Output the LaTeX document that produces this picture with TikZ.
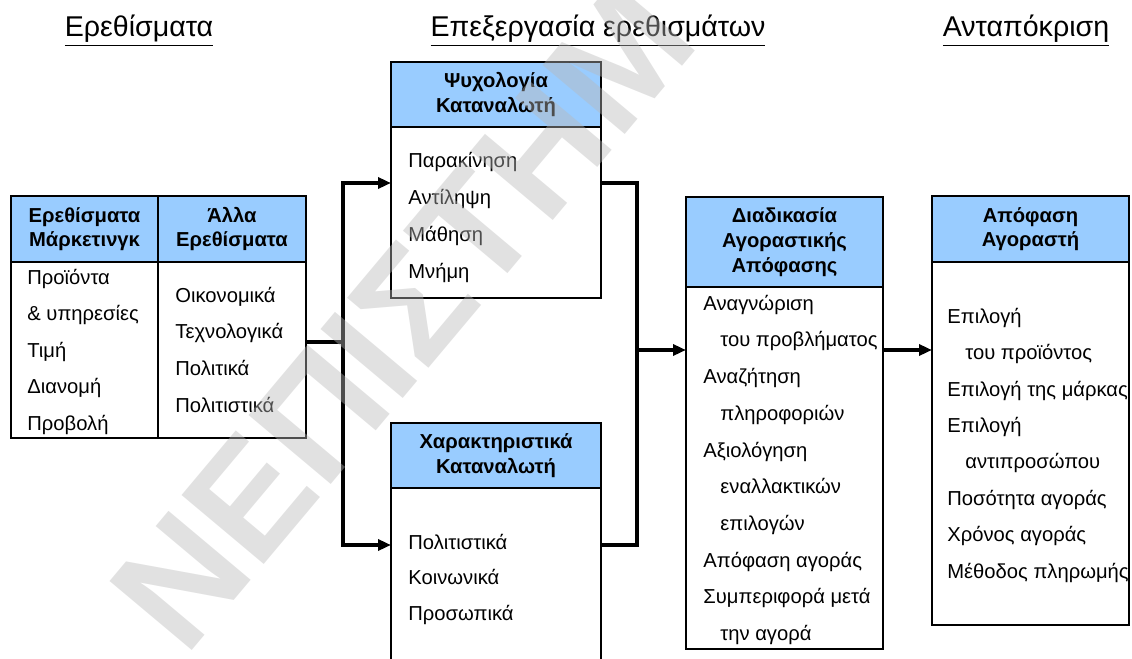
\documentclass[tikz,border=0pt]{standalone}
\usepackage{fontspec}
\setmainfont{Liberation Sans}
\usetikzlibrary{positioning, arrows.meta}
\definecolor{headblue}{RGB}{153,204,255}
\definecolor{markgray}{RGB}{184,184,184}

\begin{document}
\begin{tikzpicture}[x=0.5pt, y=-0.5pt,
headcell/.style={draw,fill=headblue,line width=0.7pt,inner sep=0pt,outer sep=0pt,align=center,
  font=\bfseries\fontsize{10.1}{12.2}\selectfont},
bodycell/.style={draw,fill=white,line width=0.7pt,inner sep=0pt,outer sep=0pt},
item/.style={inner sep=0pt,anchor=west,text height=7.2pt,text depth=0pt,font=\fontsize{10.1}{12}\selectfont},
title/.style={font=\fontsize{14.3}{16}\selectfont},
link/.style={line width=2.2pt,line join=miter},
flow/.style={link,-{Triangle[length=6.5pt,width=5.5pt]}},
watermark/.style={font=\bfseries\fontsize{78}{78}\selectfont,text=markgray,text opacity=0.42,inner sep=0pt}
]
\useasboundingbox (0,0) rectangle (1132,659);
\clip (0,0) rectangle (1132,659);

% column titles
\node[title] (stimtitle) at (139,31) {\underline{Ερεθίσματα}};
\node[title] (proctitle) at (598,31) {\underline{Επεξεργασία ερεθισμάτων}};
\node[title] (resptitle) at (1026,31) {\underline{Ανταπόκριση}};

% stimuli
\node[headcell,anchor=north west,minimum width=73.5pt,minimum height=33pt] (mkthead) at (11,196) {Ερεθίσματα\\Μάρκετινγκ};
\node[headcell,minimum width=74pt,minimum height=33pt,right=0pt of mkthead] (othhead) {Άλλα\\Ερεθίσματα};
\node[bodycell,minimum width=73.5pt,minimum height=88pt,below=0pt of mkthead] (mktbody) {};
\node[bodycell,minimum width=74pt,minimum height=88pt,below=0pt of othhead] (othbody) {};
\foreach \txt [count=\i] in {Προϊόντα,\& υπηρεσίες,Τιμή,Διανομή,Προβολή}
  \node[item] (mkt\i) at (27,{277+36.5*(\i-1)}) {\txt};
\foreach \txt [count=\i] in {Οικονομικά,Τεχνολογικά,Πολιτικά,Πολιτιστικά}
  \node[item] (oth\i) at (175,{295+36.7*(\i-1)}) {\txt};

% processing
\node[headcell,anchor=north west,minimum width=105pt,minimum height=32.5pt] (psyhead) at (391,62) {Ψυχολογία\\Καταναλωτή};
\node[bodycell,minimum width=105pt,minimum height=85.5pt,below=0pt of psyhead] (psybody) {};
\foreach \txt [count=\i] in {Παρακίνηση,Αντίληψη,Μάθηση,Μνήμη}
  \node[item] (psy\i) at (408,{160+37*(\i-1)}) {\txt};

\node[headcell,anchor=north west,minimum width=105pt,minimum height=32.5pt] (chrhead) at (391,423) {Χαρακτηριστικά\\Καταναλωτή};
\node[bodycell,minimum width=105pt,minimum height=106pt,below=0pt of chrhead] (chrbody) {};
\foreach \txt [count=\i] in {Πολιτιστικά,Κοινωνικά,Προσωπικά}
  \node[item] (chr\i) at (408,{542+35.5*(\i-1)}) {\txt};

\node[headcell,anchor=north west,minimum width=98.5pt,minimum height=45pt,
  font=\bfseries\fontsize{10.1}{12.5}\selectfont] (dechead) at (686,197) {Διαδικασία\\Αγοραστικής\\Απόφασης};
\node[bodycell,minimum width=98.5pt,minimum height=181pt,below=0pt of dechead] (decbody) {};
\foreach \x/\txt [count=\i] in {703/Αναγνώριση,720/του προβλήματος,703/Αναζήτηση,720/πληροφοριών,
  703/Αξιολόγηση,720/εναλλακτικών,720/επιλογών,703/Απόφαση αγοράς,703/Συμπεριφορά μετά,720/την αγορά}
  \node[item] (dec\i) at (\x,{303+36.7*(\i-1)}) {\txt};

% response
\node[headcell,anchor=north west,minimum width=98.5pt,minimum height=33pt] (buyhead) at (932,196) {Απόφαση\\Αγοραστή};
\node[bodycell,minimum width=98.5pt,minimum height=181.5pt,below=0pt of buyhead] (buybody) {};
\foreach \x/\txt [count=\i] in {947/Επιλογή,965/του προϊόντος,947/Επιλογή της μάρκας,947/Επιλογή,
  965/αντιπροσώπου,947/Ποσότητα αγοράς,947/Χρόνος αγοράς,947/Μέθοδος πληρωμής}
  \node[item] (buy\i) at (\x,{316+36.4*(\i-1)}) {\txt};

% connectors
\coordinate (fork) at (343,342);
\coordinate (merge) at (637,350);
\coordinate (psyrow) at (0,183);
\coordinate (chrrow) at (0,545);
\draw[link] (othbody.east |- fork) -- (fork);
\draw[flow] (fork) |- (psybody.west |- psyrow);
\draw[flow] (fork) |- (chrbody.west |- chrrow);
\draw[link] (psybody.east |- psyrow) -| (merge);
\draw[link] (chrbody.east |- chrrow) -| (merge);
\draw[flow] (merge) -- (decbody.west |- merge);
\draw[flow] (decbody.east |- merge) -- (buybody.west |- merge);

% watermark
\node[watermark,rotate=50,anchor=base west] (wmark) at (185,659) {ΝΕΠΙΣΤΗΜ};
\end{tikzpicture}
\end{document}
